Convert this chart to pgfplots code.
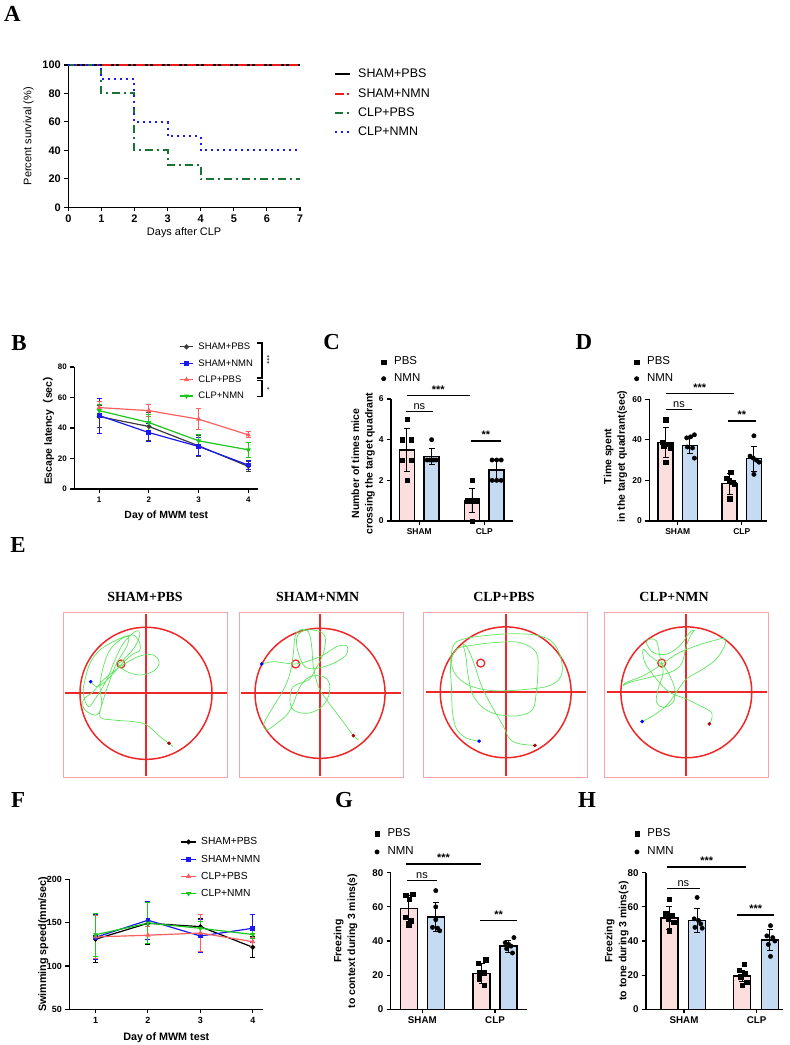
\documentclass[border=0pt]{standalone}
\usepackage{fontspec}
\setmainfont{Liberation Sans}
\newfontfamily\timesf{Liberation Serif}
\newfontfamily\cjk{Noto Sans CJK SC}
\usepackage{pgfplots}
\pgfplotsset{compat=1.18}
\usetikzlibrary{plotmarks}

\definecolor{pinkbar}{RGB}{252,222,222}
\definecolor{bluebar}{RGB}{197,219,244}
\definecolor{gpgreen}{RGB}{25,115,50}
\definecolor{gpblue}{RGB}{25,25,240}
\definecolor{gpred}{RGB}{240,25,25}
\definecolor{bgray}{RGB}{60,60,60}
\definecolor{lred}{RGB}{250,95,95}
\definecolor{lgreen}{RGB}{25,200,25}
\definecolor{trackgreen}{RGB}{95,230,95}
\definecolor{poolred}{RGB}{238,40,40}
\definecolor{boxpink}{RGB}{250,165,165}

\newcommand\fs[1]{\fontsize{#1}{#1}\selectfont}
\newcommand\panel[3]{\node[font=\timesf\bfseries\fs{23}] at (#1bp,-#2bp) {#3};}
\newcommand\sig[4]{% x1 x2 y text
  \draw[line width=1.3bp] (#1bp,-#3bp) -- (#2bp,-#3bp);
  \node[anchor=south, inner sep=1bp, font=\bfseries\fs{11}] at ({(#1+#2)/2*1bp},-#3bp+1bp) {#4};}
% pool cross, pixel aligned: x-left x-right y-top-of-horizontal x-left-of-vertical
\newcommand\poolcross[4]{%
  \fill[poolred] (#1bp,-#3bp) rectangle (#2bp,-#3bp-2bp);
  \fill[poolred] (#4bp,-614bp) rectangle (#4bp+2bp,-776bp);}

\pgfplotsset{
  gp/.style={scale only axis, axis x line*=bottom, axis y line*=left,
    axis line style={-, line width=1.3bp}, tick align=outside, major tick length=4bp,
    every tick/.style={black, line width=1.1bp}, tick label style={font=\bfseries\fs{8}},
    /pgf/number format/assume math mode=true, clip=false,
    label style={font=\bfseries\fontsize{10.5}{13.5}\selectfont}, legend cell align=left},
  barax/.style={gp, xtick={1,2}, xticklabels={SHAM,CLP}, ymin=0,
    legend style={draw=none, fill=none, anchor=north west, inner sep=0pt,
      font=\fs{11.5}, row sep=3.8bp, nodes={inner sep=1.5bp, text height=8bp, text depth=2bp}},
    legend image code/.code={\draw[##1] plot coordinates {(3bp,0bp)}; \path[draw=none] (0bp,0bp) -- (12bp,0bp);}},
  lineax/.style={gp, xmin=0.5, xmax=4.2, xtick={1,2,3,4},
    legend style={draw=none, fill=none, anchor=north west, inner sep=0pt,
      font=\fs{9.5}, row sep=3.9bp, nodes={inner sep=1.5bp, text height=7.5bp, text depth=2bp}},
    legend image code/.code={\draw[mark repeat=2, mark phase=2, ##1] plot coordinates {(0bp,0bp) (6.5bp,0bp) (13bp,0bp)}; \path[draw=none] (0bp,0bp) -- (17bp,0bp);}},
  bars/.style={ybar, bar shift=0pt, bar width=#1, draw=black, line width=1.5bp, forget plot,
    error bars/y dir=both, error bars/y explicit,
    error bars/error bar style={line width=0.9bp, black},
    error bars/error mark options={rotate=90, mark size=3bp, line width=0.9bp, black}},
  dots/.style={only marks, mark=#1, mark size=2.2bp, black},
  ln/.style={color=#1, line width=1.2bp, mark size=1.8bp, mark options={solid},
    error bars/y dir=both, error bars/y explicit,
    error bars/error bar style={line width=0.9bp, #1},
    error bars/error mark options={rotate=90, mark size=2.5bp, line width=0.9bp, #1}},
  pool/.style={scale only axis, width=164.4bp, height=164.4bp, y dir=reverse,
    xtick=\empty, ytick=\empty, axis line style={boxpink, line width=1bp}, clip=false},
  track/.style={trackgreen, line width=0.7bp, smooth, tension=0.6, no marks},
}

\begin{document}
\begin{tikzpicture}
\path[use as bounding box, fill=white] (0,0) rectangle (790bp,-1045bp);

% ---------------- A ----------------
\panel{12.5}{14}{A}
\begin{axis}[gp, at={(68.3bp,-207.3bp)}, anchor=south west, width=231.7bp, height=142.3bp,
  xmin=0, xmax=7, ymin=0, ymax=100, xtick={0,...,7}, ytick={0,20,...,100},
  tick label style={font=\bfseries\fs{11}},
  xlabel={Days after CLP}, ylabel={Percent survival (\%)},
  label style={font=\fs{11}},
  xlabel style={at={(axis description cs:0.5,-0.175)}, anchor=center},
  ylabel style={at={(axis description cs:-0.172,0.5)}, anchor=center},
  legend style={at={(axis description cs:1.1446,0.989)}, anchor=north west, draw=none, fill=none,
    inner sep=0pt, font=\fs{12.5}, row sep=4.3bp, nodes={inner sep=1.5bp, text height=9.5bp, text depth=2.5bp}},
  legend image code/.code={\draw[#1] (0bp,0bp) -- (15bp,0bp); \path[draw=none] (0bp,0bp) -- (22bp,0bp);}]
\addplot[const plot, black, line width=1.6bp] coordinates {(0,100) (7,100)};
\addlegendentry{SHAM+PBS}
\addplot[const plot, gpred, line width=2bp, dash pattern=on 9bp off 3bp on 2bp off 3bp] coordinates {(0,100) (7,100)};
\addlegendentry{SHAM+NMN}
\addplot[const plot, gpgreen, line width=2bp, dash pattern=on 8bp off 4bp on 2bp off 4bp] coordinates {(0,100) (1,80) (2,40) (3,30) (4,20) (7,20)};
\addlegendentry{CLP+PBS}
\addplot[const plot, gpblue, line width=2bp, dash pattern=on 2bp off 4bp] coordinates {(0,100) (1,90) (2,60) (3,50) (4,40) (7,40)};
\addlegendentry{CLP+NMN}
\end{axis}

% ---------------- B ----------------
\panel{19}{343}{B}
\begin{axis}[lineax, at={(74.3bp,-489bp)}, anchor=south west, width=184bp, height=122bp,
  ymin=0, ymax=80, ytick={0,20,...,80},
  xlabel={Day of MWM test}, ylabel={Escape latency{\cjk （}sec{\cjk ）}},
  xlabel style={at={(axis description cs:0.5,-0.22)}, anchor=center},
  ylabel style={at={(axis description cs:-0.141,0.5)}, anchor=center},
  legend style={at={(axis description cs:0.570,1.218)}}]
\addplot[ln=bgray, mark=*] coordinates {(1,47.5)+-(0,7) (2,41)+-(0,9) (3,28.3)+-(0,7) (4,14.8)+-(0,3)};
\addlegendentry{SHAM+PBS}
\addplot[ln=gpblue, mark=square*] coordinates {(1,48.2)+-(0,11.5) (2,37)+-(0,6) (3,27.9)+-(0,6) (4,15.7)+-(0,3)};
\addlegendentry{SHAM+NMN}
\addplot[ln=lred, mark=triangle*] coordinates {(1,53.4)+-(0,4) (2,51.4)+-(0,4) (3,45.8)+-(0,7) (4,35.5)+-(0,2)};
\addlegendentry{CLP+PBS}
\addplot[ln=lgreen, mark=triangle*, mark options={rotate=180}] coordinates {(1,51.4)+-(0,4) (2,43.6)+-(0,5) (3,31.6)+-(0,4) (4,25.7)+-(0,5)};
\addlegendentry{CLP+NMN}
\end{axis}
\draw[line width=1.3bp] (257bp,-343bp) -- (262bp,-343bp) -- (262bp,-378bp) -- (257bp,-378bp);
\draw[line width=1.3bp] (257bp,-380.5bp) -- (262bp,-380.5bp) -- (262bp,-396.5bp) -- (257bp,-396.5bp);
\node[rotate=-90, font=\fs{7}] at (267bp,-360bp) {***};
\node[rotate=-90, font=\fs{7}] at (267bp,-388.5bp) {*};

% ---------------- C ----------------
\panel{331.7}{341.7}{C}
\begin{axis}[barax, at={(391bp,-521bp)}, anchor=south west, width=122.3bp, height=122bp,
  xmin=0.565, xmax=2.446, ymax=6, ytick={0,2,4,6},
  tick label style={font=\bfseries\fs{8.5}},
  ylabel={Number of times mice\\crossing the target quadrant},
  ylabel style={align=center, at={(axis description cs:-0.227,0.47)}, anchor=center},
  legend style={at={(axis description cs:-0.086,1.359)}}]
\addplot[bars=15bp, fill=pinkbar] coordinates {(0.81,3.5)+-(0,1.05) (1.81,1.0)+-(0,0.6)};
\addplot[bars=15bp, fill=bluebar] coordinates {(1.19,3.17)+-(0,0.4) (2.19,2.5)+-(0,0.55)};
\addplot[dots=square*] coordinates {(0.81,5) (0.74,4) (0.88,4) (0.74,3) (0.88,3) (0.81,2)
  (1.81,2) (1.74,1) (1.78,1) (1.84,1) (1.88,1) (1.81,0)};
\addlegendentry{PBS}
\addplot[dots=*] coordinates {(1.19,4) (1.12,3) (1.16,3) (1.19,3) (1.22,3) (1.26,3)
  (2.12,3) (2.19,3) (2.26,3) (2.12,2) (2.19,2) (2.26,2)};
\addlegendentry{NMN}
\end{axis}
\sig{406.7}{470}{395.7}{***}
\sig{406}{432.7}{411.7}{\mdseries ns}
\sig{471}{500.7}{441}{**}

% ---------------- D ----------------
\panel{584}{342.3}{D}
\begin{axis}[barax, at={(649.3bp,-521bp)}, anchor=south west, width=117.4bp, height=121.7bp,
  xmin=0.555, xmax=2.39, ymax=60, ytick={0,20,40,60},
  tick label style={font=\bfseries\fs{8.5}},
  ylabel={Time spent\\in the target quadrant(sec)},
  ylabel style={align=center, at={(axis description cs:-0.288,0.53)}, anchor=center},
  legend style={at={(axis description cs:-0.135,1.362)}}]
\addplot[bars=15bp, fill=pinkbar] coordinates {(0.81,38.6)+-(0,7.5) (1.81,18.4)+-(0,5.2)};
\addplot[bars=15bp, fill=bluebar] coordinates {(1.19,37.3)+-(0,4.1) (2.19,30.7)+-(0,6.2)};
\addplot[dots=square*] coordinates {(0.81,50) (0.76,39) (0.86,38) (0.78,37) (0.88,36) (0.81,29)
  (1.83,24) (1.76,21) (1.8,20) (1.86,19) (1.88,18) (1.81,11)};
\addlegendentry{PBS}
\addplot[dots=*] coordinates {(1.14,41) (1.2,41.5) (1.26,42.5) (1.15,36.5) (1.23,36) (1.26,31)
  (2.19,42) (2.13,32) (2.18,31) (2.23,30) (2.27,29) (2.19,23)};
\addlegendentry{NMN}
\end{axis}
\sig{665.7}{734}{393.7}{***}
\sig{665.7}{692.3}{409.7}{\mdseries ns}
\sig{728}{756}{421}{**}

% ---------------- E ----------------
\panel{18}{545}{E}
\foreach \tx/\ttl in {145/SHAM+PBS, 317.7/SHAM+NMN, 504/CLP+PBS, 674/CLP+NMN}
  {\node[font=\timesf\bfseries\fs{14}] at (\tx bp,-597bp) {\ttl};}
\poolcross{65}{227}{692}{145}
\poolcross{241}{401}{692}{319}
\poolcross{426}{586}{691}{505}
\poolcross{607}{767}{691}{685}

\begin{axis}[pool, at={(63.3bp,-777bp)}, anchor=south west, xmin=10, xmax=503, ymin=218, ymax=711]
\draw[poolred, line width=1.5bp] (axis cs:258,460) circle[radius=198];
\draw[poolred, line width=1.3bp] (axis cs:183,372) circle[radius=12];
\addplot[track] coordinates {(92,425) (110,440) (130,430) (160,400) (185,372) (215,345) (240,330)
  (235,300) (215,285) (170,300) (120,330) (90,370) (75,420) (70,460) (85,500) (110,470) (140,420)
  (165,360) (190,310) (225,275) (240,280) (225,320) (190,360) (175,372) (200,395) (245,405)
  (285,390) (297,365) (280,345) (240,348) (200,368) (160,395) (125,425) (100,455) (70,480)
  (75,510) (110,525) (125,490) (120,440) (130,380) (150,330) (180,300) (205,290) (200,320)
  (170,370) (150,420) (130,480) (120,530) (160,540) (220,545) (260,555) (300,590) (327,610) (338,620)};
\addplot[only marks, mark=*, mark size=1.6bp, blue] coordinates {(92,425)};
\addplot[only marks, mark=*, mark size=1.6bp, red!70!black] coordinates {(327,610)};
\end{axis}

\begin{axis}[pool, at={(239bp,-777bp)}, anchor=south west, xmin=537, xmax=1030, ymin=218, ymax=711]
\draw[poolred, line width=1.5bp] (axis cs:780,460) circle[radius=195];
\draw[poolred, line width=1.3bp] (axis cs:707,372) circle[radius=12];
\addplot[track] coordinates {(605,372) (640,365) (680,370) (707,372) (740,365) (790,345) (830,320)
  (860,318) (858,345) (820,370) (770,385) (735,380) (715,340) (710,295) (730,272) (770,272)
  (795,290) (790,340) (765,390) (745,420) (700,440) (690,480) (700,510) (740,520) (780,505)
  (805,470) (808,430) (790,410) (750,410) (720,440) (700,490) (680,525) (650,550) (620,570)
  (612,550) (640,500) (670,450) (690,400) (700,340) (705,290) (720,270) (745,275) (755,320)
  (760,380) (775,440) (800,480) (830,520) (860,560) (880,587) (895,600)};
\addplot[only marks, mark=*, mark size=1.6bp, blue] coordinates {(605,372)};
\addplot[only marks, mark=*, mark size=1.6bp, red!70!black] coordinates {(880,587)};
\end{axis}

\begin{axis}[pool, at={(423.3bp,-777bp)}, anchor=south west, xmin=40, xmax=535, ymin=220, ymax=715]
\draw[poolred, line width=1.5bp] (axis cs:288,460) circle[radius=197];
\draw[poolred, line width=1.3bp] (axis cs:213,372) circle[radius=12];
\addplot[track] coordinates {(208,607) (170,598) (140,570) (128,520) (125,450) (122,380) (130,320)
  (160,300) (220,290) (300,284) (380,288) (430,310) (455,360) (455,410) (420,440) (340,452)
  (250,455) (180,440) (140,410) (125,370) (140,330) (190,318) (260,310) (330,310) (380,340)
  (385,400) (380,460) (370,510) (330,530) (270,528) (225,510) (190,470) (175,410) (168,350)
  (160,315) (175,330) (195,380) (215,440) (245,500) (280,560) (300,600) (330,615) (376,620)};
\addplot[only marks, mark=*, mark size=1.6bp, blue] coordinates {(208,607)};
\addplot[only marks, mark=*, mark size=1.6bp, red!70!black] coordinates {(376,620)};
\end{axis}

\begin{axis}[pool, at={(604.3bp,-777bp)}, anchor=south west, xmin=583, xmax=1078, ymin=220, ymax=715]
\draw[poolred, line width=1.5bp] (axis cs:830,460) circle[radius=197];
\draw[poolred, line width=1.3bp] (axis cs:756,372) circle[radius=12];
\addplot[track] coordinates {(697,548) (730,530) (770,500) (800,460) (830,420) (880,390) (920,360)
  (945,320) (945,298) (910,305) (860,320) (800,345) (750,380) (700,410) (650,430) (640,440)
  (660,430) (720,415) (780,400) (815,375) (830,320) (845,285) (855,273) (840,280) (810,320)
  (770,345) (730,340) (710,310) (720,300) (740,305) (750,350) (760,400) (745,450) (740,490)
  (760,505) (790,490) (795,450) (780,410) (760,380) (720,350) (700,330) (705,370) (740,420)
  (780,460) (830,480) (870,500) (905,520) (905,545) (899,555)};
\addplot[only marks, mark=*, mark size=1.6bp, blue] coordinates {(697,548)};
\addplot[only marks, mark=*, mark size=1.6bp, red!70!black] coordinates {(899,555)};
\end{axis}

% ---------------- F ----------------
\panel{18}{800}{F}
\begin{axis}[lineax, at={(69.3bp,-1009.3bp)}, anchor=south west, width=194bp, height=130bp,
  ymin=50, ymax=200, ytick={50,100,150,200},
  tick label style={font=\bfseries\fs{9}},
  xlabel={Day of MWM test}, ylabel={Swimming speed(mm/sec)},
  label style={font=\bfseries\fs{10.8}},
  xlabel style={at={(axis description cs:0.5,-0.218)}, anchor=center},
  ylabel style={at={(axis description cs:-0.134,0.5)}, anchor=center},
  legend style={at={(axis description cs:0.572,1.339)}, font=\fs{10.3}, row sep=4.2bp,
    nodes={inner sep=1.5bp, text height=8bp, text depth=2bp}},
  legend image code/.code={\draw[mark repeat=2, mark phase=2, #1] plot coordinates {(0bp,0bp) (7.5bp,0bp) (15bp,0bp)}; \path[draw=none] (0bp,0bp) -- (18.6bp,0bp);}]
\addplot[ln=black, mark=*] coordinates {(1,130.8)+-(0,27) (2,149.3)+-(0,25) (3,145.4)+-(0,9) (4,121.6)+-(0,12)};
\addlegendentry{SHAM+PBS}
\addplot[ln=gpblue, mark=square*] coordinates {(1,133)+-(0,26) (2,152.8)+-(0,22) (3,134.6)+-(0,19) (4,143.5)+-(0,16)};
\addlegendentry{SHAM+NMN}
\addplot[ln=lred, mark=triangle*] coordinates {(1,133.5)+-(0,25) (2,135.5)+-(0,10) (3,138)+-(0,21) (4,128)+-(0,5)};
\addlegendentry{CLP+PBS}
\addplot[ln=lgreen, mark=triangle*, mark options={rotate=180}] coordinates {(1,136)+-(0,25) (2,149.5)+-(0,24) (3,143.5)+-(0,8) (4,136.3)+-(0,5)};
\addlegendentry{CLP+NMN}
\end{axis}

% ---------------- G ----------------
\panel{344}{800}{G}
\begin{axis}[barax, at={(390.7bp,-1009.3bp)}, anchor=south west, width=136bp, height=136.6bp,
  xmin=0.565, xmax=2.436, ymax=80, ytick={0,20,...,80},
  tick label style={font=\bfseries\fs{9.8}},
  ylabel={Freezing\\to context during 3 mins(s)},
  ylabel style={align=center, font=\bfseries\fontsize{10.5}{14}\selectfont, at={(axis description cs:-0.332,0.5)}, anchor=center},
  legend style={at={(axis description cs:-0.124,1.336)}, row sep=5.4bp}]
\addplot[bars=17bp, fill=pinkbar] coordinates {(0.815,59)+-(0,7.5) (1.815,21)+-(0,6)};
\addplot[bars=17bp, fill=bluebar] coordinates {(1.185,54)+-(0,8.5) (2.185,37)+-(0,3.5)};
\addplot[dots=square*] coordinates {(0.77,67) (0.87,67.5) (0.82,64.5) (0.77,54) (0.85,52) (0.81,49.5)
  (1.77,27) (1.87,29) (1.78,21.5) (1.85,21.5) (1.78,18) (1.85,14)};
\addlegendentry{PBS}
\addplot[dots=*] coordinates {(1.185,69.5) (1.185,60) (1.185,52.5) (1.14,48) (1.21,47.5) (1.24,46)
  (2.26,42) (2.14,39) (2.19,38) (2.22,37) (2.16,35.5) (2.24,33)};
\addlegendentry{NMN}
\end{axis}
\sig{406}{481}{864}{***}
\sig{407.3}{436.7}{880.7}{\mdseries ns}
\sig{480}{517.3}{920.7}{**}

% ---------------- H ----------------
\panel{587}{800}{H}
\begin{axis}[barax, at={(646bp,-1009.3bp)}, anchor=south west, width=137.3bp, height=136.6bp,
  xmin=0.477, xmax=2.366, ymax=80, ytick={0,20,...,80},
  tick label style={font=\bfseries\fs{9.8}},
  ylabel={Freezing\\to tone during 3 mins(s)},
  ylabel style={align=center, font=\bfseries\fontsize{10.5}{14}\selectfont, at={(axis description cs:-0.213,0.5)}, anchor=center},
  legend style={at={(axis description cs:-0.089,1.336)}, row sep=5.4bp}]
\addplot[bars=17bp, fill=pinkbar] coordinates {(0.8,53.5)+-(0,7) (1.8,19.5)+-(0,3.3)};
\addplot[bars=17bp, fill=bluebar] coordinates {(1.18,52)+-(0,6.8) (2.18,40.5)+-(0,6)};
\addplot[dots=square*] coordinates {(0.8,64.5) (0.75,56) (0.84,55) (0.78,53) (0.86,51) (0.8,46)
  (1.83,26.5) (1.76,23) (1.84,21) (1.78,19) (1.86,16) (1.8,14)};
\addlegendentry{PBS}
\addplot[dots=*] coordinates {(1.18,65.5) (1.14,53) (1.2,52) (1.23,50) (1.15,48) (1.25,47.5)
  (2.19,49) (2.14,43) (2.22,42) (2.25,40) (2.16,38) (2.19,31)};
\addlegendentry{NMN}
\end{axis}
\sig{667.3}{746}{867}{***}
\sig{666.7}{700}{888.3}{\mdseries ns}
\sig{737.3}{774}{915}{***}

\end{tikzpicture}
\end{document}
